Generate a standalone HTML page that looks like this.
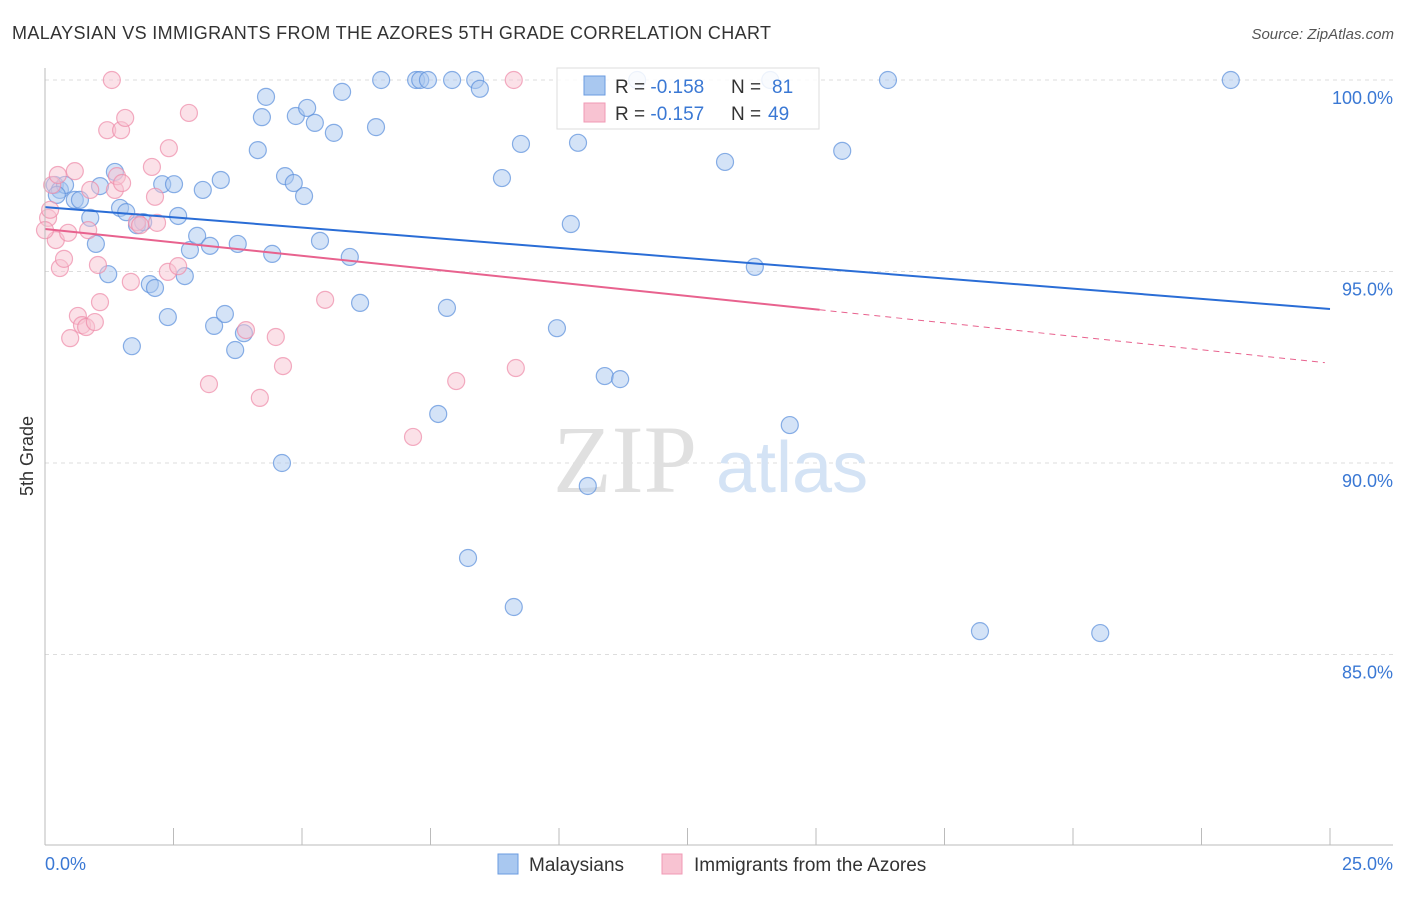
<!DOCTYPE html>
<html><head><meta charset="utf-8"><style>
body{margin:0;background:#fff;font-family:"Liberation Sans",sans-serif;}
svg text{font-family:"Liberation Sans",sans-serif;}
</style></head><body>
<svg id="chart" width="1406" height="892" xmlns="http://www.w3.org/2000/svg">
<text x="12" y="39" font-size="18" fill="#333" textLength="759" lengthAdjust="spacing">MALAYSIAN VS IMMIGRANTS FROM THE AZORES 5TH GRADE CORRELATION CHART</text>
<text x="1394" y="39" font-size="15" fill="#555" font-style="italic" text-anchor="end">Source: ZipAtlas.com</text>
<g id="grid"></g>
<g>
<text x="553" y="492" font-size="96" style="font-family:'Liberation Serif',serif" fill="#e0e0e0">ZIP</text>
<text x="716" y="492" font-size="72" fill="#d4e3f5">atlas</text>
</g>
<g id="pts"></g>
<g id="lines"></g>
<line x1="45" y1="68" x2="45" y2="845" stroke="#bbb"/>
<line x1="45" y1="845" x2="1393" y2="845" stroke="#bbb"/>
<g id="ticks"></g>
<text x="33" y="456" font-size="18" fill="#333" transform="rotate(-90 33 456)" text-anchor="middle">5th Grade</text>
<text x="45" y="870" font-size="18" fill="#3a78d4">0.0%</text>
<text x="1393" y="870" font-size="18" fill="#3a78d4" text-anchor="end">25.0%</text>
<g>
<rect x="557" y="68" width="262" height="61" fill="#fff" fill-opacity="0.85" stroke="#ddd"/>
<rect x="584" y="76" width="21" height="19" fill="#a9c8f0" stroke="#6a9be0"/>
<rect x="584" y="103" width="21" height="19" fill="#f8c3d2" stroke="#f09ab4"/>
<text x="615" y="93" font-size="19" fill="#333">R = <tspan fill="#3a78d4">-0.158</tspan><tspan x="731">N = </tspan><tspan x="772" fill="#3a78d4">81</tspan></text>
<text x="615" y="120" font-size="19" fill="#333">R = <tspan fill="#3a78d4">-0.157</tspan><tspan x="731">N = </tspan><tspan x="768" fill="#3a78d4">49</tspan></text>
</g>
<g>
<rect x="498" y="854" width="20" height="20" fill="#a9c8f0" stroke="#6a9be0"/>
<text x="529" y="871" font-size="19" fill="#333">Malaysians</text>
<rect x="662" y="854" width="20" height="20" fill="#f8c3d2" stroke="#f09ab4"/>
<text x="694" y="871" font-size="19" fill="#333">Immigrants from the Azores</text>
</g>
</svg>
<script>
const blueX=[0.19,0.29,0.39,0.23,0.58,0.68,0.88,0.99,1.23,1.36,1.07,1.46,1.58,1.79,1.91,1.69,2.04,2.14,2.28,2.51,2.59,2.39,2.72,2.82,2.96,3.07,3.21,3.29,3.42,3.50,3.70,3.75,3.87,4.14,4.22,4.30,4.42,4.61,4.67,4.84,4.88,5.04,5.10,5.25,5.35,5.62,5.78,5.93,6.13,6.44,6.54,7.22,7.30,7.45,7.65,7.82,7.92,8.23,8.37,8.46,8.89,9.12,9.26,9.96,10.23,10.37,10.56,10.89,11.19,11.52,13.23,13.81,14.49,15.51,16.40,18.19,20.53,23.07,14.11];
const blueY=[97.26,97.13,97.26,97.00,96.87,96.87,96.40,95.72,94.93,97.60,97.23,96.66,96.55,96.21,96.29,93.05,94.67,94.57,97.28,97.28,96.45,93.81,94.88,95.56,95.93,97.13,95.67,93.58,97.39,93.89,92.95,95.72,93.39,98.17,99.03,99.56,95.46,90.00,97.49,97.31,99.06,96.97,99.27,98.88,95.80,98.62,99.69,95.38,94.18,98.77,100,100,100,100,91.28,94.05,100,87.52,100,99.77,97.44,86.24,98.33,93.52,96.24,98.36,89.40,92.27,92.19,100,97.86,95.12,90.99,98.15,100,85.61,85.56,100,100];
const pinkX=[0.06,0.10,0.14,0.21,0.25,0.29,0.37,0.45,0.58,0.64,0.72,0.80,0.84,0.88,0.97,1.03,1.07,0.49,1.21,1.30,1.36,1.40,1.48,1.50,1.56,1.67,1.79,1.85,2.08,2.14,2.18,2.39,2.41,2.59,2.80,3.19,3.91,4.18,4.49,4.63,5.45,7.16,8.00,9.12,9.16,0.00];
const pinkY=[96.40,96.61,97.26,95.82,97.52,95.09,95.33,96.01,97.62,93.84,93.60,93.55,96.08,97.13,93.68,95.17,94.20,93.26,98.69,100,97.13,97.49,98.69,97.31,99.01,94.73,96.29,96.21,97.73,96.95,96.27,94.99,98.22,95.14,99.14,92.06,93.47,91.70,93.29,92.53,94.26,90.68,92.14,100,92.48,96.08];
const blueTrend=[0,96.68,25,94.02];
const pinkTrend=[0,96.11,15.07,94.0,24.9,92.62];
const yTicks=[100,95,90,85];
const xTicks=[0,2.5,5,7.5,10,12.5,15,17.5,20,22.5,25];
const NS='http://www.w3.org/2000/svg';
const sx=v=>45+v*51.4, sy=v=>80+(100-v)*38.3;
function mk(tag,attrs,parent){const e=document.createElementNS(NS,tag);for(const k in attrs)e.setAttribute(k,attrs[k]);parent.appendChild(e);return e;}
const grid=document.getElementById('grid'),ticks=document.getElementById('ticks'),pts=document.getElementById('pts'),lines=document.getElementById('lines');
yTicks.forEach(t=>{
 const l=mk('line',{x1:45,x2:1393,y1:sy(t),y2:sy(t),stroke:'#ddd','stroke-dasharray':'4,4'},grid);
 
 
 const tx=mk('text',{x:1393,y:sy(t)+24,'font-size':18,fill:'#3a78d4','text-anchor':'end'},ticks);
 tx.textContent=t.toFixed(1)+'%';
 
 
});
xTicks.forEach(t=>{
 const l=mk('line',{x1:sx(t),x2:sx(t),y1:828,y2:845,stroke:'#bbb'},ticks);
 
 
});
blueX.forEach((x,i)=>{
 const c=mk('circle',{cx:sx(x),cy:sy(blueY[i]),r:8.5,fill:'#a9c8f0','fill-opacity':0.5,stroke:'#5a8fdc','stroke-opacity':0.7,'stroke-width':1.2},pts);
 
 
});
pinkX.forEach((x,i)=>{
 const c=mk('circle',{cx:sx(x),cy:sy(pinkY[i]),r:8.5,fill:'#f8c3d2','fill-opacity':0.5,stroke:'#ee8aa8','stroke-opacity':0.7,'stroke-width':1.2},pts);
 
 
});
const bl=mk('line',{x1:sx(blueTrend[0]),y1:sy(blueTrend[1]),x2:sx(blueTrend[2]),y2:sy(blueTrend[3]),stroke:'#2a6dd6','stroke-width':2},lines);


const pl=mk('line',{x1:sx(pinkTrend[0]),y1:sy(pinkTrend[1]),x2:sx(pinkTrend[2]),y2:sy(pinkTrend[3]),stroke:'#e8628e','stroke-width':2},lines);


const pd=mk('line',{x1:sx(pinkTrend[2]),y1:sy(pinkTrend[3]),x2:sx(pinkTrend[4]),y2:sy(pinkTrend[5]),stroke:'#e8628e','stroke-width':1,'stroke-dasharray':'6,5'},lines);


</script>
</body></html>
